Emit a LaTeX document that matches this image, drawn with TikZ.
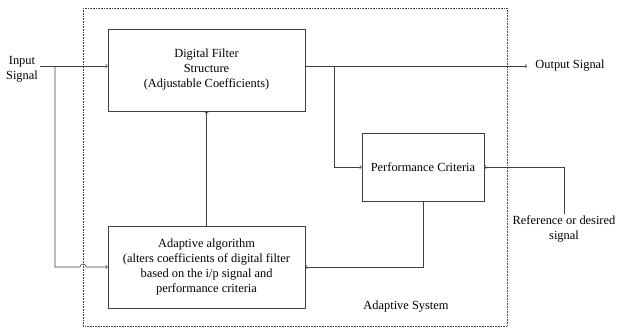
\documentclass[tikz,border=0pt]{standalone}
\usepackage{fontspec}
\setmainfont{Liberation Serif}
\begin{document}
\begin{tikzpicture}[x=1pt,y=-1pt,line width=0.6pt,draw=black!75,
  blk/.style={draw,align=center,inner sep=0pt},
  sig/.style={->,>=to},
  txt/.style={align=center}]
\useasboundingbox (0,0) rectangle (621,328);
\fontsize{12.4}{15}\selectfont
% adaptive system frame
\draw[densely dotted] (83,8) rectangle (507,326);
%
\node[blk,minimum width=197pt,minimum height=82pt] (filt) at (206.5,70) {Digital Filter\\Structure\\(Adjustable Coefficients)};
\node[blk,minimum width=197pt,minimum height=82pt] (adapt) at (206.5,267) {Adaptive algorithm\\(alters coefficients of digital filter\\based on the i/p signal and\\performance criteria};
\node[blk,minimum width=122pt,minimum height=68pt] (perf) at (423,167) {Performance Criteria};
%
\node[txt] (inlbl) at (22,69) {Input\\Signal};
\node[txt,anchor=west] (outlbl) at (531,66) {Output Signal};
\node[txt,inner sep=1pt] (reflbl) at (564,229) {Reference or desired\\signal};
\node[txt] (syslbl) at (406,307) {Adaptive System};
%
\coordinate (in) at (40,66);
\coordinate (tapin) at (55,66);
\coordinate (tapout) at (334,66);
\coordinate (out) at (527,66);
\coordinate (hop) at (80,267);
%
\draw[sig] (in) -- (in -| filt.west);
\draw[sig] (tapin) |- (hop) arc[start angle=180,end angle=0,radius=3pt] -- (adapt.west);
\draw[sig] (filt.east |- in) -- (out);
\draw[sig] (tapout) |- (perf.west);
\draw[sig] (reflbl.north) |- (perf.east);
\draw[sig] (perf.south) |- (adapt.east);
\draw[sig] (adapt.north) -- (filt.south);
\end{tikzpicture}
\end{document}
